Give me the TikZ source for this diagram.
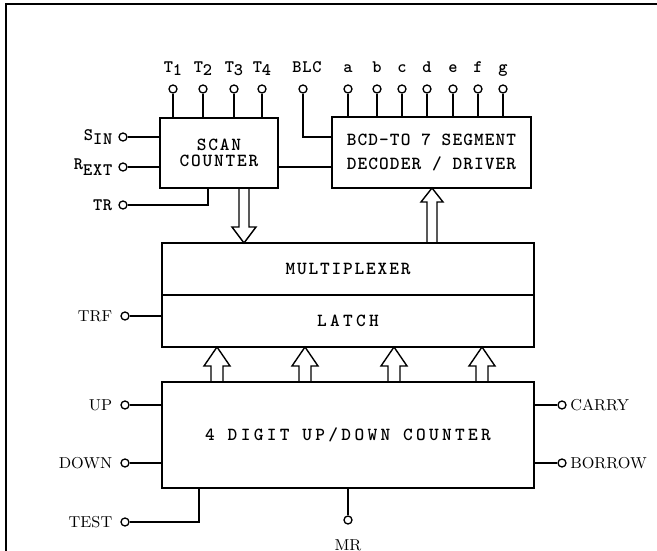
\documentclass[tikz,border=0pt]{standalone}
\usepackage{fontspec}
\usetikzlibrary{positioning, calc}
\newfontfamily\typefont{lmmonolt10-bold}[Extension=.otf]
% typewriter text: size, letter spacing
\newcommand\tw[2]{\typefont\fontsize{#1}{#1}\selectfont\addfontfeature{LetterSpace=#2}}
% hollow bus arrow: tail, tip, dir (1 up, -1 down), half shaft, half head, head length
\newcommand\busarrow[6]{%
  \draw[bus] ([shift={(-#4,0)}]#1) -- ([shift={(-#4,#3*#6)}]#2)
    -- ([shift={(-#5,#3*#6)}]#2) -- (#2) -- ([shift={(#5,#3*#6)}]#2)
    -- ([shift={(#4,#3*#6)}]#2) -- ([shift={(#4,0)}]#1);}
\tikzset{
  blk/.style={draw, line width=1.2pt, inner sep=2pt},
  term/.style={draw, circle, line width=0.75pt, inner sep=0pt, minimum size=0.16cm},
  wire/.style={line width=0.75pt},
  bus/.style={line width=0.8pt, line join=miter},
  tlbl/.style={font=\tw{10}{4}, inner sep=1pt},
  rlbl/.style={font=\rmfamily\fontsize{9}{9}\selectfont, inner sep=1pt},
}

\begin{document}
\begin{tikzpicture}[x=0.02cm, y=-0.02cm]
\useasboundingbox (0,0) rectangle (657,551);

% frame
\draw[line width=1.1pt] (6,551) -- (6,4) -- (657,4);

% blocks
\node[blk, minimum width=2.36cm, minimum height=1.4cm, align=center,
      font=\tw{10.5}{10}] (scan) at (219,153) {SCAN\\[-1pt]COUNTER};
\node[blk, minimum width=3.98cm, minimum height=1.42cm, align=left,
      font=\tw{10.5}{6}] (bcd) at (431.5,152.5) {BCD-TO 7 SEGMENT\\[3pt]DECODER / DRIVER};
\node[blk, minimum width=7.44cm, minimum height=1.04cm,
      font=\tw{10.5}{10}] (mux) at (348,269) {MULTIPLEXER};
\node[blk, minimum width=7.44cm, minimum height=1.04cm,
      font=\tw{10.5}{18}] (latch) at (348,321) {LATCH};
\node[blk, minimum width=7.44cm, minimum height=2.12cm,
      font=\tw{10.5}{18}] (cnt) at (348,435) {4 DIGIT UP/DOWN COUNTER};

% scan outputs
\foreach \n/\x/\t in {t1/173/1, t2/203/2, t3/234/3, t4/262/4} {
  \node[term] (\n) at (\x,89) {};
  \node[tlbl, anchor=base] (\n-l) at (\x,72) {T\raisebox{-.5ex}{\t}};
  \draw[wire] (\n) -- (\n |- scan.north);
}

% segment outputs
\foreach \n/\x in {a/348, b/377, c/402, d/427, e/453, f/478, g/503} {
  \node[term] (s\n) at (\x,89) {};
  \node[tlbl, anchor=base] (l\n) at (\x,72) {\n};
  \draw[wire] (s\n) -- (s\n |- bcd.north);
}

% blanking
\node[term] (blc) at (303,89) {};
\node[tlbl, anchor=base] (blc-l) at (307,72) {BLC};
\coordinate (blcin) at (332,137);
\draw[wire] (blc) |- (blcin);

% scan inputs
\node[term] (sin) at (123,137) {};
\node[tlbl, left=0.08cm of sin] (sin-l) {S\raisebox{-.5ex}{IN}};
\node[term] (rext) at (123,167) {};
\node[tlbl, left=0.08cm of rext] (rext-l) {R\raisebox{-.7ex}{EXT}};
\node[term] (tr) at (123,205) {};
\node[tlbl, left=0.08cm of tr] (tr-l) {TR};
\coordinate (trin) at (208,188);
\draw[wire] (sin) -- (sin -| scan.west);
\draw[wire] (rext) -- (rext -| scan.west);
\draw[wire] (tr) -| (trin);
\draw[wire] (scan.east |- rext) -- (bcd.west |- rext);

% latch input
\node[term] (trf) at (125,316) {};
\node[rlbl, left=0.12cm of trf] (trf-l) {TRF};
\draw[wire] (trf) -- (trf -| latch.west);

% counter inputs
\node[term] (up) at (125,405) {};
\node[rlbl, left=0.12cm of up] (up-l) {UP};
\node[term] (down) at (125,463) {};
\node[rlbl, left=0.12cm of down] (down-l) {DOWN};
\node[term] (test) at (125,522) {};
\node[rlbl, left=0.12cm of test] (test-l) {TEST};
\coordinate (testin) at (199,488);
\draw[wire] (up) -- (up -| cnt.west);
\draw[wire] (down) -- (down -| cnt.west);
\draw[wire] (test) -| (testin);

\node[term] (mr) at (348,520) {};
\node[rlbl, below=0.26cm of mr] (mr-l) {MR};
\draw[wire] (mr) -- (mr |- cnt.south);

% counter outputs
\node[term] (carry) at (562,405) {};
\node[rlbl, right=0.03cm of carry] (carry-l) {CARRY};
\node[term] (borrow) at (562,463) {};
\node[rlbl, right=0.03cm of borrow] (borrow-l) {BORROW};
\draw[wire] (carry -| cnt.east) -- (carry);
\draw[wire] (borrow -| cnt.east) -- (borrow);

% buses
\coordinate (sd0) at (244,188);
\coordinate (sd1) at (244,243);
\busarrow{sd0}{sd1}{-1}{5}{12}{16}
\coordinate (bu0) at (432,243);
\coordinate (bu1) at (432,188);
\busarrow{bu0}{bu1}{1}{5}{11}{14}
\foreach \x [count=\i] in {217,305,394,482} {
  \coordinate (c\i) at (\x,382);
  \coordinate (l\i) at (\x,347);
  \busarrow{c\i}{l\i}{1}{6}{13}{19}
}

\end{tikzpicture}
\end{document}
